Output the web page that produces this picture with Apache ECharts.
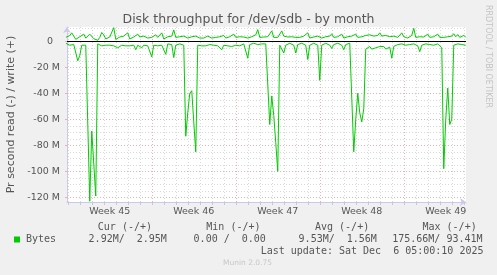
<!DOCTYPE html>
<html>
<head>
<meta charset="utf-8">
<script src="https://cdn.jsdelivr.net/npm/echarts@6/dist/echarts.min.js"></script>
<style>
html,body{margin:0;padding:0;background:#f0f0f0;}
#c{width:497px;height:275px;}
</style>
</head>
<body>
<div id="c"></div>
<script>
// ---- data (values in millions of bytes per second) ----
const startHour = -4;   // hours relative to Mon 3 Nov 2025 00:00 (start of Week 45)
const stepHours = 4;
const readM = [
  -1.5,-2,-3,-1.5,-2.5,-4,-15,-11,-3,-2.5,
  -3,-2,-123,-69,-69,-119,-2,-3,-3.5,-2.5,
  -3,-4,-3,-2.5,-3.5,-2,-5,-3.5,-3,-2.5,
  -3.5,-2,-3.5,-4,-3,-6.5,-3,-2.5,-5,-3,
  -2.5,-3.5,-4,-12,-3,-2.5,-3.5,-2,-3,-4,
  -10,-2,-1.5,-2.5,-12.5,-3,-2.5,-2,-2.5,-3,
  -73,-55,-40,-38,-62,-85,-3,-2.5,-3.5,-2,
  -3.5,-3,-2.5,-4,-3,-2,-3.5,-4,-6.5,-3,
  -2.5,-3.5,-2,-4,-2.5,-3,-2,-3.5,-2.5,-2,
  -3.5,-13,-2.5,-2,-1.5,-2.5,-2.5,-1.5,-2,-1.5,
  -2,-3,-64,-42,-57,-78,-100,-3,-2.5,-9,
  -3,-2,-1.5,-2.5,-3,-9,-2.5,-2,-1.5,-2.5,
  -3,-14,-3,-2,-1.5,-2.5,-3,-30,-3,-2,
  -1.5,-2.5,-3,-5.5,-2.5,-2,-1.5,-2.5,-3,-6.5,
  -2.5,-2,-1.5,-3,-85,-60,-40,-55,-62,-52,
  -6,-5,-4,-6,-4.5,-5,-6.5,-4,-5,-4,
  -6,-5,-4.5,-13,-4,-3,-2.5,-3,-2,-2.5,
  -3,-2,-2.5,-3.5,-2,-3,-3.5,-8,-3,-2.5,
  -2,-3,-2.5,-4,-3,-2.5,-2,-3,-5,-98,
  -60,-36,-64,-60,-3,-2.5,-2,-3,-2.5,-4,
  -3
];
const writeM = [
  3,3.5,4.5,6.5,5.5,1.5,2.8,3.5,3.3,5.5,
  2.5,2,5.5,7,2,1.5,0.8,3,6.8,5,
  1.8,3,3.3,4,10.5,1.5,2.5,3.3,3,4,
  5.5,6.5,1.8,3,3.3,4.5,5.5,3.3,3,4,
  4.6,2.5,1.8,3,3.3,5,3,3.3,6.5,1.8,
  2.5,3.5,3,4,8.8,3,2.5,3.5,3,4,
  5,2.5,3,3.5,2.8,4,5,2.5,3.2,2.5,
  3.5,4,5.5,2.5,3.5,3,2.5,3.5,3,4.5,
  2.5,3,3.5,4,5.5,3,2.5,3.5,3,3.3,
  4.5,2.5,3,3.5,3,5,9,3,2.5,3.3,
  2.5,3.5,5,8,3,2.5,3,3.5,8,4,
  3,3.3,2.5,3.5,5,3,2.5,3,3.5,4,
  5,6.5,2.5,3,3.3,3,4,5.5,2.5,3,
  3.5,3,4,5.8,3,2.5,3.5,4,5.5,2.5,
  3,3.5,3.3,4,4.5,5.5,3,2.5,3.5,4,
  4.5,5.8,5,3.5,4,3.5,4.5,6.5,4,3.5,
  4.5,3,3.5,2.5,4,3.3,3,4,6.5,3.5,
  3,2.5,3.5,4.5,10,3,2.5,3.5,3,3.3,
  4,5.5,3,2.5,3.5,4,5.5,3,3.3,3,
  2.5,3.5,3,4,5.8,3.5,5.2,3,2.5,4.5,
  3.3
];
const weekLabels = ['Week 45','Week 46','Week 47','Week 48','Week 49'];
const weekMidHours = [84, 252, 420, 588, 756];
const weekStartHours = [168, 336, 504, 672];
const yLabelValues = [0, -20, -40, -60, -80, -100, -120];
const legendHeaders = ['Cur (-/+)', 'Min (-/+)', 'Avg (-/+)', 'Max (-/+)'];
const legendName = 'Bytes';
const legendValues = ['2.92M/  2.95M', '0.00 /  0.00', '9.53M/  1.56M', '175.66M/ 93.41M'];
const lastUpdate = 'Last update: Sat Dec  6 05:00:10 2025';
const titleText = 'Disk throughput for /dev/sdb - by month';
const yTitle = 'Pr second read (-) / write (+)';
const sideText = 'RRDTOOL / TOBI OETIKER';
const footerText = 'Munin 2.0.75';

// ---- derived ----
const X_MIN = -1.5, X_MAX = 796.5, Y_MIN = -123.6, Y_MAX = 11;
const dayHours = [];
for (let h = 0; h <= 792; h += 24) dayHours.push(h);
const minorY = [];
for (let v = -120; v <= 10; v += 5) if (v % 20 !== 0) minorY.push(v);
const majorY = yLabelValues.filter(v => v !== 0);

const GRAY = '#d8d8d8', RED = '#ebb0b0';
const gridLines = [].concat(
  minorY.map(v => ({yAxis: v, lineStyle: {color: GRAY, type: [1, 2], width: 1}})),
  dayHours.filter(h => weekStartHours.indexOf(h) < 0).map(h => ({xAxis: h, lineStyle: {color: GRAY, type: [1, 2], width: 1}})),
  majorY.map(v => ({yAxis: v, lineStyle: {color: RED, type: [1, 2], width: 1}})),
  weekStartHours.map(h => ({xAxis: h, lineStyle: {color: RED, type: [1, 2], width: 1}}))
);

const toPts = arr => arr.map((v, i) => [startHour + i * stepHours, v]);

const TXT = '#555';
const SANS = 'DejaVu Sans';

const headerX = [97.8, 206.3, 315, 422.5];
const valueX = [88.6, 193.6, 298.6, 392.2];

const graphics = [
  {type: 'text', x: 248.5, y: 19.5, style: {text: titleText, fill: TXT, font: '12.5px "DejaVu Sans"', align: 'center', verticalAlign: 'middle'}},
  {type: 'text', x: 11, y: 114.5, rotation: Math.PI / 2, style: {text: yTitle, fill: TXT, font: '11px "DejaVu Sans"', align: 'center', verticalAlign: 'middle'}},
  {type: 'text', x: 488, y: 5, rotation: -Math.PI / 2, style: {text: sideText, fill: '#c4c4c4', font: '8px "DejaVu Sans"', align: 'left', verticalAlign: 'middle'}},
  {type: 'rect', shape: {x: 14, y: 236.5, width: 6, height: 6}, style: {fill: '#00cc00'}},
  {type: 'text', x: 26, y: 239.7, style: {text: legendName, fill: TXT, font: '10px "DejaVu Sans Mono"', align: 'left', verticalAlign: 'middle'}},
  {type: 'text', x: 260.7, y: 251.7, style: {text: lastUpdate, fill: TXT, font: '10px "DejaVu Sans Mono"', align: 'left', verticalAlign: 'middle'}},
  {type: 'text', x: 247.5, y: 263.3, style: {text: footerText, fill: '#c8c8c8', font: '7.5px "DejaVu Sans"', align: 'center', verticalAlign: 'middle'}}
];
legendHeaders.forEach((t, k) => graphics.push({type: 'text', x: headerX[k], y: 227.3, style: {text: t, fill: TXT, font: '10px "DejaVu Sans Mono"', align: 'left', verticalAlign: 'middle'}}));
legendValues.forEach((t, k) => graphics.push({type: 'text', x: valueX[k], y: 239.7, style: {text: t, fill: TXT, font: '10px "DejaVu Sans Mono"', align: 'left', verticalAlign: 'middle'}}));

const chart = echarts.init(document.getElementById('c'), null, {renderer: 'canvas'});
chart.setOption({
  animation: false,
  backgroundColor: '#f0f0f0',
  grid: {left: 67, right: 31, top: 27, bottom: 73, show: true, backgroundColor: '#ffffff', borderWidth: 0},
  xAxis: [{
    type: 'value', min: X_MIN, max: X_MAX, position: 'bottom',
    axisLine: {show: true, onZero: false, symbol: ['none', 'arrow'], symbolSize: [6, 6], lineStyle: {color: '#c8c8f0', width: 1}},
    axisTick: {show: true, customValues: dayHours, length: 3, lineStyle: {color: '#c8c8c8'}},
    axisLabel: {customValues: weekMidHours, margin: 5, color: TXT, fontFamily: SANS, fontSize: 9.5,
      formatter: v => weekLabels[weekMidHours.indexOf(v)] || ''},
    splitLine: {show: false}
  }, {
    type: 'value', min: X_MIN, max: X_MAX, position: 'bottom',
    axisLine: {show: false},
    axisTick: {show: true, customValues: weekStartHours, length: 3, lineStyle: {color: RED}},
    axisLabel: {show: false},
    splitLine: {show: false}
  }],
  yAxis: {
    type: 'value', min: Y_MIN, max: Y_MAX,
    axisLine: {show: true, onZero: false, symbol: ['none', 'arrow'], symbolSize: [6, 6], lineStyle: {color: '#c8c8f0', width: 1}},
    axisTick: {show: true, customValues: yLabelValues, length: 2, lineStyle: {color: RED}},
    axisLabel: {customValues: yLabelValues, margin: 7, color: TXT, fontFamily: SANS, fontSize: 9.5,
      formatter: v => v === 0 ? '{z|0}' : (v + ' M'),
      rich: {z: {padding: [0, 7, 0, 0], color: TXT, fontFamily: SANS, fontSize: 9.5}}},
    splitLine: {show: false}
  },
  graphic: graphics,
  series: [
    {
      name: 'write', type: 'line', xAxisIndex: 0, data: toPts(writeM), showSymbol: false, symbol: 'none',
      lineStyle: {color: '#00cc00', width: 1}, z: 3, silent: true,
      markLine: {silent: true, symbol: ['none', 'none'], z: 1, label: {show: false}, animation: false, data: gridLines}
    },
    {
      name: 'read', type: 'line', xAxisIndex: 0, data: toPts(readM), showSymbol: false, symbol: 'none',
      lineStyle: {color: '#00cc00', width: 1}, z: 3, silent: true,
      markLine: {silent: true, symbol: ['none', 'none'], z: 4, label: {show: false}, animation: false,
        data: [{yAxis: 0, lineStyle: {color: '#000000', type: 'solid', width: 1}}]}
    }
  ]
});
</script>
</body>
</html>
